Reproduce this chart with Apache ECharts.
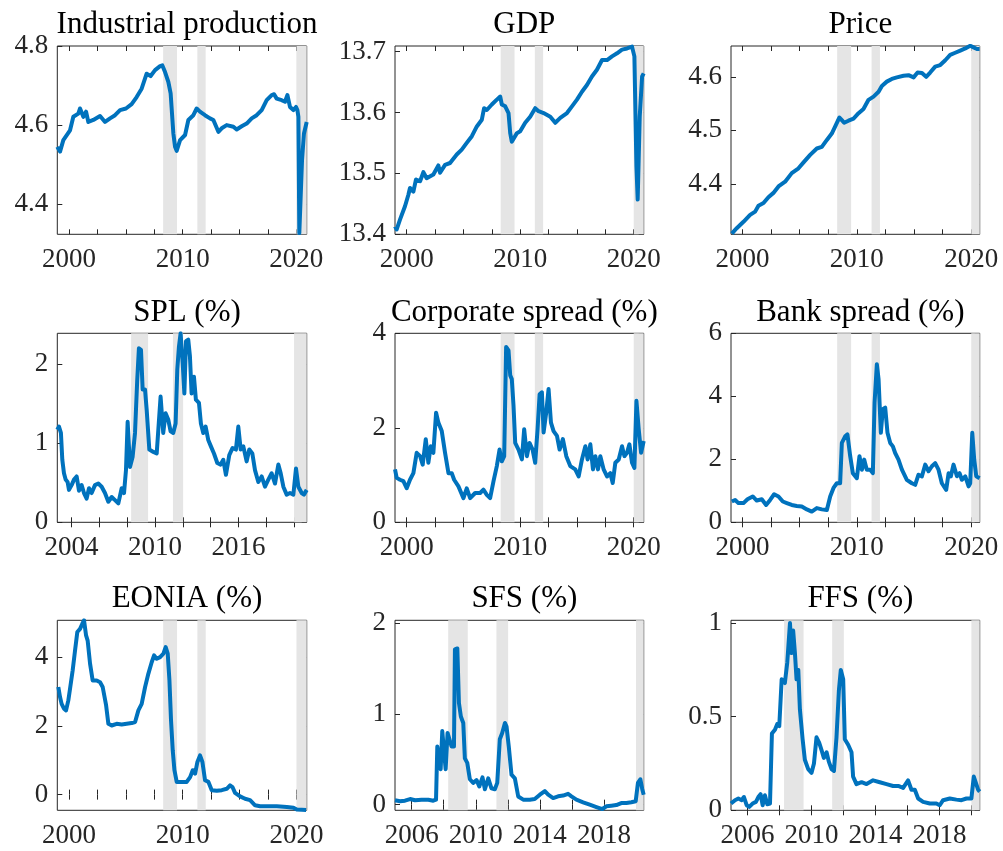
<!DOCTYPE html>
<html>
<head>
<meta charset="utf-8">
<script src="https://cdn.jsdelivr.net/npm/echarts@6/dist/echarts.min.js"></script>
<style>
  html, body { margin: 0; padding: 0; background: #fff; }
  #chart { width: 1003px; height: 851px; }
</style>
</head>
<body>
<div id="chart"></div>
<script>
/* series: [year, value] */
var ipData = [[1998.97,4.545],[1999.21,4.533],[1999.50,4.562],[2000.09,4.587],[2000.38,4.621],[2000.82,4.629],[2000.97,4.642],[2001.26,4.621],[2001.50,4.634],[2001.70,4.608],[2002.14,4.613],[2002.73,4.623],[2003.17,4.608],[2003.61,4.617],[2004.05,4.625],[2004.49,4.638],[2005.01,4.642],[2005.51,4.653],[2005.95,4.671],[2006.39,4.692],[2006.83,4.730],[2007.18,4.724],[2007.57,4.739],[2008.01,4.749],[2008.21,4.751],[2008.45,4.734],[2008.74,4.709],[2008.94,4.680],[2009.18,4.579],[2009.33,4.545],[2009.47,4.535],[2009.77,4.562],[2010.21,4.575],[2010.50,4.613],[2010.94,4.625],[2011.23,4.642],[2011.52,4.634],[2011.96,4.625],[2012.40,4.617],[2012.70,4.613],[2013.14,4.583],[2013.43,4.592],[2013.87,4.600],[2014.46,4.596],[2014.75,4.589],[2015.19,4.597],[2015.63,4.604],[2016.07,4.617],[2016.51,4.625],[2016.95,4.638],[2017.39,4.663],[2017.83,4.676],[2018.04,4.678],[2018.27,4.667],[2018.71,4.663],[2019.00,4.659],[2019.21,4.676],[2019.44,4.646],[2019.74,4.638],[2019.97,4.646],[2020.09,4.638],[2020.18,4.621],[2020.26,4.327],[2020.38,4.325],[2020.50,4.512],[2020.67,4.579],[2020.91,4.608]];

var gdpData = [[1998.97,13.413],[1999.12,13.408],[1999.41,13.424],[1999.85,13.446],[2000.15,13.465],[2000.29,13.476],[2000.59,13.470],[2000.82,13.490],[2001.18,13.487],[2001.47,13.502],[2001.76,13.492],[2002.35,13.498],[2002.79,13.513],[2002.94,13.501],[2003.38,13.514],[2003.82,13.517],[2004.41,13.531],[2004.85,13.539],[2005.29,13.550],[2005.74,13.561],[2006.18,13.577],[2006.62,13.588],[2006.82,13.607],[2007.06,13.604],[2007.50,13.613],[2007.94,13.621],[2008.24,13.626],[2008.38,13.613],[2008.68,13.610],[2008.97,13.599],[2009.12,13.566],[2009.26,13.552],[2009.41,13.555],[2009.71,13.566],[2010.00,13.569],[2010.44,13.583],[2010.88,13.593],[2011.32,13.607],[2011.62,13.602],[2012.06,13.599],[2012.65,13.593],[2013.09,13.583],[2013.53,13.591],[2014.12,13.599],[2014.56,13.610],[2015.00,13.621],[2015.44,13.634],[2015.88,13.645],[2016.32,13.659],[2016.76,13.670],[2017.21,13.686],[2017.65,13.686],[2018.09,13.692],[2018.53,13.697],[2018.97,13.703],[2019.41,13.705],[2019.85,13.708],[2020.06,13.692],[2020.24,13.511],[2020.35,13.457],[2020.44,13.460],[2020.53,13.593],[2020.74,13.659],[2020.88,13.664]];

var priceData = [[1999.07,4.307],[1999.50,4.317],[2000.09,4.329],[2000.67,4.342],[2001.11,4.348],[2001.40,4.359],[2001.84,4.364],[2002.27,4.375],[2002.71,4.383],[2003.15,4.395],[2003.73,4.404],[2004.31,4.420],[2004.90,4.429],[2005.34,4.440],[2005.92,4.454],[2006.50,4.466],[2006.94,4.469],[2007.38,4.482],[2007.81,4.494],[2008.10,4.507],[2008.48,4.524],[2008.69,4.519],[2008.89,4.514],[2009.27,4.518],[2009.71,4.522],[2010.15,4.532],[2010.58,4.540],[2011.02,4.557],[2011.46,4.563],[2011.90,4.572],[2012.19,4.583],[2012.62,4.591],[2013.06,4.596],[2013.50,4.599],[2014.08,4.602],[2014.52,4.603],[2014.96,4.599],[2015.31,4.608],[2015.69,4.607],[2016.06,4.600],[2016.41,4.608],[2016.85,4.619],[2017.29,4.622],[2017.73,4.631],[2018.16,4.641],[2018.60,4.645],[2019.04,4.649],[2019.48,4.653],[2019.91,4.658],[2020.20,4.655],[2020.50,4.652],[2020.73,4.652]];

var splData = [[2002.97,1.17],[2003.09,1.21],[2003.23,1.13],[2003.33,0.79],[2003.45,0.62],[2003.57,0.54],[2003.71,0.51],[2003.81,0.41],[2004.00,0.47],[2004.17,0.54],[2004.36,0.58],[2004.53,0.40],[2004.72,0.47],[2004.89,0.37],[2005.08,0.30],[2005.25,0.43],[2005.44,0.37],[2005.68,0.47],[2005.92,0.49],[2006.16,0.45],[2006.40,0.37],[2006.64,0.26],[2006.88,0.32],[2007.12,0.28],[2007.36,0.24],[2007.60,0.43],[2007.77,0.37],[2007.91,0.66],[2008.03,1.27],[2008.20,0.70],[2008.39,0.83],[2008.56,1.13],[2008.72,1.80],[2008.84,2.20],[2008.99,2.18],[2009.11,1.68],[2009.28,1.68],[2009.40,1.42],[2009.59,0.92],[2009.88,0.89],[2010.12,0.87],[2010.40,1.59],[2010.59,1.13],[2010.76,1.38],[2010.95,1.30],[2011.12,1.15],[2011.31,1.13],[2011.48,1.25],[2011.60,1.93],[2011.72,2.22],[2011.84,2.39],[2011.99,2.01],[2012.11,1.63],[2012.23,2.29],[2012.39,2.31],[2012.51,2.10],[2012.63,1.63],[2012.80,1.84],[2012.94,1.55],[2013.16,1.51],[2013.30,1.25],[2013.47,1.13],[2013.64,1.21],[2013.83,1.04],[2014.02,0.96],[2014.24,0.87],[2014.48,0.75],[2014.72,0.73],[2014.91,0.79],[2015.10,0.60],[2015.34,0.85],[2015.58,0.94],[2015.82,0.92],[2015.99,1.21],[2016.16,0.92],[2016.35,0.96],[2016.59,0.77],[2016.78,0.92],[2017.00,0.87],[2017.19,0.66],[2017.43,0.51],[2017.67,0.58],[2017.91,0.45],[2018.15,0.54],[2018.39,0.62],[2018.63,0.49],[2018.87,0.73],[2019.04,0.62],[2019.23,0.45],[2019.47,0.35],[2019.71,0.37],[2019.95,0.35],[2020.14,0.68],[2020.31,0.45],[2020.55,0.37],[2020.71,0.35],[2020.91,0.41]];

var corpData = [[1998.97,1.12],[1999.12,0.94],[1999.41,0.90],[1999.71,0.87],[2000.00,0.72],[2000.29,0.90],[2000.59,1.04],[2000.88,1.47],[2001.18,1.40],[2001.41,1.22],[2001.68,1.76],[2001.91,1.26],[2002.12,1.61],[2002.35,1.47],[2002.59,2.32],[2002.79,2.11],[2003.09,1.93],[2003.38,1.47],[2003.68,1.04],[2003.97,1.04],[2004.18,0.90],[2004.56,0.76],[2005.00,0.51],[2005.29,0.72],[2005.59,0.51],[2006.03,0.62],[2006.47,0.62],[2006.76,0.69],[2007.06,0.58],[2007.35,0.51],[2007.65,0.87],[2007.94,1.19],[2008.18,1.54],[2008.38,1.29],[2008.59,1.40],[2008.76,3.71],[2008.97,3.64],[2009.12,3.11],[2009.26,3.03],[2009.41,2.47],[2009.56,1.68],[2009.85,1.54],[2010.15,1.33],[2010.35,1.97],[2010.59,1.40],[2010.82,1.68],[2011.09,1.54],[2011.32,1.26],[2011.53,1.97],[2011.71,2.71],[2011.91,2.75],[2012.06,1.90],[2012.29,2.32],[2012.50,2.82],[2012.71,2.11],[2012.94,1.93],[2013.24,1.83],[2013.47,1.54],[2013.76,1.76],[2014.06,1.40],[2014.41,1.19],[2014.85,1.12],[2015.15,0.97],[2015.44,1.33],[2015.74,1.61],[2015.94,1.33],[2016.18,1.65],[2016.41,1.12],[2016.62,1.40],[2016.85,1.12],[2017.06,1.40],[2017.35,1.12],[2017.65,0.97],[2017.94,1.04],[2018.15,0.83],[2018.38,1.26],[2018.68,1.33],[2018.97,1.61],[2019.18,1.40],[2019.41,1.47],[2019.62,1.65],[2019.85,1.26],[2020.06,1.15],[2020.24,2.57],[2020.44,1.97],[2020.65,1.47],[2020.88,1.72]];

var bankData = [[1999.07,0.66],[1999.36,0.71],[1999.65,0.61],[2000.09,0.61],[2000.44,0.73],[2000.90,0.82],[2001.25,0.69],[2001.69,0.73],[2002.07,0.55],[2002.42,0.71],[2002.77,0.89],[2003.15,0.82],[2003.53,0.66],[2003.88,0.61],[2004.31,0.55],[2004.75,0.52],[2005.19,0.50],[2005.63,0.41],[2006.06,0.34],[2006.50,0.45],[2006.94,0.41],[2007.38,0.39],[2007.67,0.82],[2007.96,1.09],[2008.25,1.24],[2008.54,1.24],[2008.69,2.52],[2008.98,2.73],[2009.18,2.79],[2009.42,2.10],[2009.65,1.56],[2010.00,1.40],[2010.23,2.10],[2010.44,1.67],[2010.64,1.99],[2010.87,1.67],[2011.17,1.67],[2011.40,1.56],[2011.55,3.80],[2011.75,5.02],[2011.90,4.54],[2012.10,2.84],[2012.27,3.59],[2012.48,3.64],[2012.68,2.84],[2012.92,2.52],[2013.15,2.41],[2013.35,2.20],[2013.64,1.99],[2013.94,1.67],[2014.37,1.35],[2014.81,1.24],[2015.10,1.19],[2015.39,1.51],[2015.69,1.46],[2015.98,1.83],[2016.27,1.62],[2016.56,1.78],[2016.85,1.88],[2017.14,1.67],[2017.43,1.24],[2017.81,1.03],[2018.02,1.56],[2018.22,1.46],[2018.45,1.83],[2018.75,1.46],[2018.98,1.56],[2019.18,1.35],[2019.48,1.46],[2019.77,1.14],[2019.91,1.24],[2020.09,2.84],[2020.26,1.99],[2020.44,1.46],[2020.73,1.40]];

var eoniaData = [[1999.06,3.13],[1999.21,2.84],[1999.35,2.64],[1999.56,2.50],[1999.74,2.45],[1999.94,2.74],[2000.09,3.08],[2000.32,3.61],[2000.53,4.19],[2000.73,4.73],[2000.97,4.82],[2001.17,4.97],[2001.32,5.07],[2001.50,4.63],[2001.64,4.48],[2001.85,3.81],[2002.08,3.32],[2002.43,3.32],[2002.73,3.27],[2002.96,3.13],[2003.26,2.60],[2003.46,2.06],[2003.75,2.01],[2004.19,2.06],[2004.63,2.04],[2005.07,2.06],[2005.51,2.08],[2005.81,2.11],[2006.10,2.45],[2006.39,2.64],[2006.69,3.13],[2006.98,3.52],[2007.27,3.85],[2007.48,4.05],[2007.71,3.95],[2008.01,4.00],[2008.30,4.10],[2008.50,4.29],[2008.68,4.10],[2008.83,3.32],[2008.97,2.16],[2009.12,1.29],[2009.27,0.71],[2009.47,0.37],[2009.91,0.37],[2010.35,0.37],[2010.65,0.51],[2010.88,0.71],[2011.09,0.61],[2011.29,0.95],[2011.52,1.14],[2011.73,0.95],[2011.96,0.42],[2012.26,0.37],[2012.55,0.13],[2012.99,0.11],[2013.43,0.13],[2013.87,0.17],[2014.16,0.27],[2014.37,0.22],[2014.60,0.05],[2015.04,-0.05],[2015.48,-0.12],[2015.92,-0.16],[2016.36,-0.31],[2016.80,-0.34],[2017.39,-0.34],[2018.27,-0.34],[2019.15,-0.36],[2019.74,-0.38],[2020.03,-0.43],[2020.47,-0.44],[2020.85,-0.45]];

var sfsData = [[2004.96,0.048],[2005.27,0.037],[2005.58,0.044],[2005.90,0.062],[2006.21,0.048],[2006.62,0.055],[2007.04,0.055],[2007.35,0.044],[2007.52,0.055],[2007.60,0.64],[2007.70,0.66],[2007.81,0.39],[2007.91,0.81],[2008.01,0.61],[2008.12,0.39],[2008.24,0.79],[2008.35,0.81],[2008.49,0.64],[2008.64,0.64],[2008.70,1.71],[2008.85,1.72],[2008.95,1.12],[2009.07,0.97],[2009.22,0.90],[2009.32,0.51],[2009.47,0.46],[2009.63,0.28],[2009.84,0.24],[2010.05,0.27],[2010.22,0.20],[2010.42,0.30],[2010.57,0.17],[2010.78,0.29],[2010.98,0.18],[2011.19,0.17],[2011.34,0.24],[2011.50,0.72],[2011.65,0.79],[2011.82,0.90],[2011.92,0.86],[2012.06,0.64],[2012.23,0.33],[2012.44,0.29],[2012.65,0.09],[2012.96,0.055],[2013.37,0.055],[2013.68,0.062],[2014.00,0.11],[2014.31,0.15],[2014.52,0.11],[2014.83,0.073],[2015.14,0.092],[2015.45,0.10],[2015.76,0.12],[2015.97,0.092],[2016.28,0.055],[2016.70,0.026],[2017.11,0.0],[2017.53,-0.026],[2017.90,-0.048],[2018.15,-0.018],[2018.46,-0.011],[2018.77,-0.004],[2019.08,0.018],[2019.40,0.018],[2019.71,0.026],[2019.98,0.037],[2020.12,0.24],[2020.27,0.28],[2020.39,0.17],[2020.48,0.11]];

var ffsData = [[2004.96,0.036],[2005.21,0.054],[2005.42,0.063],[2005.63,0.054],[2005.77,0.071],[2005.94,0.027],[2006.10,0.018],[2006.31,0.036],[2006.52,0.045],[2006.67,0.071],[2006.81,0.086],[2006.94,0.027],[2007.08,0.080],[2007.23,0.032],[2007.40,0.036],[2007.52,0.41],[2007.71,0.43],[2007.85,0.46],[2007.98,0.45],[2008.13,0.70],[2008.33,0.68],[2008.48,0.79],[2008.65,1.00],[2008.75,0.84],[2008.85,0.96],[2008.96,0.84],[2009.06,0.70],[2009.17,0.75],[2009.27,0.54],[2009.44,0.38],[2009.58,0.27],[2009.79,0.22],[2010.00,0.20],[2010.15,0.25],[2010.31,0.39],[2010.48,0.36],[2010.63,0.32],[2010.77,0.28],[2010.94,0.31],[2011.08,0.26],[2011.25,0.22],[2011.40,0.21],[2011.56,0.39],[2011.71,0.64],[2011.83,0.75],[2011.98,0.70],[2012.08,0.38],[2012.29,0.35],[2012.50,0.31],[2012.60,0.18],[2012.81,0.14],[2013.13,0.15],[2013.44,0.14],[2013.85,0.16],[2014.27,0.15],[2014.69,0.14],[2015.10,0.13],[2015.42,0.13],[2015.73,0.12],[2016.04,0.16],[2016.25,0.11],[2016.46,0.11],[2016.67,0.063],[2016.98,0.045],[2017.40,0.036],[2017.81,0.036],[2018.02,0.027],[2018.23,0.054],[2018.65,0.063],[2019.06,0.057],[2019.38,0.054],[2019.69,0.063],[2020.00,0.063],[2020.15,0.18],[2020.27,0.19],[2020.42,0.11],[2020.52,0.10]];

/* recession periods (shaded) */
var recessions = [[2008.28, 2009.5], [2011.29, 2012.02], [2020.0, 2021.0]];

/* titles, axis ranges and tick values */
var titles = ['Industrial production', 'GDP', 'Price', 'SPL (%)', 'Corporate spread (%)', 'Bank spread (%)', 'EONIA (%)', 'SFS (%)', 'FFS (%)'];
var seriesList = [ipData, gdpData, priceData, splData, corpData, bankData, eoniaData, sfsData, ffsData];
var xRanges = [[1998.97, 2020.91], [1998.97, 2020.88], [1999.0, 2020.74], [2002.97, 2020.91], [1998.97, 2020.88], [1999.0, 2020.74], [1998.97, 2020.9], [2004.96, 2020.48], [2004.96, 2020.52]];
var yRanges = [[4.324, 4.8], [13.4, 13.709], [4.3056, 4.6576], [0, 2.39], [0, 4], [0, 6], [-0.456, 5.07], [-0.062, 2.03], [0, 1.015]];
var ticks25 = [2000, 2002.5, 2005, 2007.5, 2010, 2012.5, 2015, 2017.5, 2020];
var ticksSpl = [2004, 2006, 2008, 2010, 2012, 2014, 2016, 2018, 2020];
var ticks2 = [2006, 2008, 2010, 2012, 2014, 2016, 2018, 2020];
var xTicks = [ticks25, ticks25, ticks25, ticksSpl, ticks25, ticks25, ticks25, ticks2, ticks2];
var xLabels = [[2000, 2010, 2020], [2000, 2010, 2020], [2000, 2010, 2020], [2004, 2010, 2016], [2000, 2010, 2020], [2000, 2010, 2020], [2000, 2010, 2020], [2006, 2010, 2014, 2018], [2006, 2010, 2014, 2018]];
var yTicks = [[4.4, 4.6, 4.8], [13.4, 13.5, 13.6, 13.7], [4.4, 4.5, 4.6], [0, 1, 2], [0, 2, 4], [0, 2, 4, 6], [0, 2, 4], [0, 1, 2], [0, 0.5, 1]];

/* layout of the 3x3 panels */
var colLeft = [57.3, 395, 731];
var colWidth = [249.4, 248.7, 248.7];
var rowTop = [46, 333.3, 620.3];
var rowHeight = [188.3, 189, 190];
var titleTop = [4, 292, 578];

var FONT = 'Liberation Serif';
var AXIS_COLOR = '#262626';

var grids = [], xAxes = [], yAxes = [], series = [], titleOpts = [];
for (var i = 0; i < 9; i++) {
    var r = Math.floor(i / 3), c = i % 3;
    grids.push({
        left: colLeft[c], top: rowTop[r], width: colWidth[c], height: rowHeight[r],
        show: true, borderColor: AXIS_COLOR, borderWidth: 1, backgroundColor: 'transparent'
    });
    titleOpts.push({
        text: titles[i],
        left: colLeft[c] + colWidth[c] / 2,
        top: titleTop[r],
        textAlign: 'center',
        textStyle: { fontFamily: FONT, fontSize: 31, fontWeight: 'normal', color: '#000' }
    });
    ['bottom', 'top'].forEach(function (pos) {
        xAxes.push({
            gridIndex: i, type: 'value', position: pos,
            min: xRanges[i][0], max: xRanges[i][1],
            axisLine: { show: false },
            splitLine: { show: false },
            axisTick: { show: true, inside: true, length: 5, customValues: xTicks[i], lineStyle: { color: AXIS_COLOR, width: 1 } },
            axisLabel: {
                show: pos === 'bottom', customValues: xLabels[i], margin: 12,
                fontFamily: FONT, fontSize: 27, color: AXIS_COLOR,
                formatter: function (v) { return String(v); }
            }
        });
    });
    ['left', 'right'].forEach(function (pos) {
        yAxes.push({
            gridIndex: i, type: 'value', position: pos,
            min: yRanges[i][0], max: yRanges[i][1],
            axisLine: { show: false },
            splitLine: { show: false },
            axisTick: { show: true, inside: true, length: 5, customValues: yTicks[i], lineStyle: { color: AXIS_COLOR, width: 1 } },
            axisLabel: {
                show: pos === 'left', customValues: yTicks[i], margin: 9,
                fontFamily: FONT, fontSize: 27, color: AXIS_COLOR,
                formatter: function (v) { return String(Math.round(v * 1000) / 1000); }
            }
        });
    });
    var xMax = xRanges[i][1];
    var bands = recessions.map(function (b) {
        return [{ xAxis: b[0] }, { xAxis: Math.min(b[1], xMax) }];
    });
    // shaded bands go on an empty series drawn under the line
    series.push({
        type: 'line', xAxisIndex: 2 * i, yAxisIndex: 2 * i, data: [], z: 1,
        markArea: { silent: true, itemStyle: { color: '#e5e5e5' }, data: bands }
    });
    series.push({
        type: 'line', xAxisIndex: 2 * i, yAxisIndex: 2 * i, z: 3,
        data: seriesList[i], showSymbol: false, clip: true,
        lineStyle: { color: '#0072BD', width: 4, join: 'round' }
    });
}

var chart = echarts.init(document.getElementById('chart'));
chart.setOption({
    animation: false,
    backgroundColor: '#fff',
    title: titleOpts,
    grid: grids,
    xAxis: xAxes,
    yAxis: yAxes,
    series: series
});
</script>
</body>
</html>
